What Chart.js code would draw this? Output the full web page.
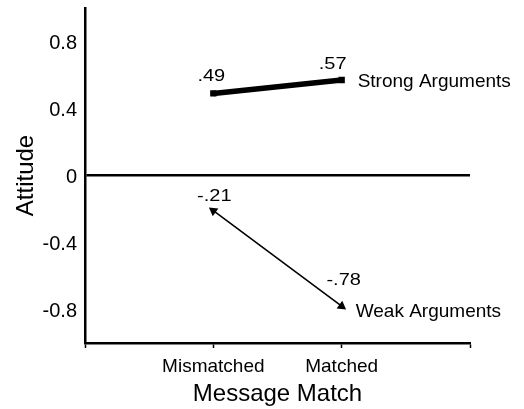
<!DOCTYPE html>
<html>
<head>
<meta charset="utf-8">
<script src="https://cdn.jsdelivr.net/npm/chart.js@4"></script>
<style>
  html, body { margin: 0; padding: 0; background: #fff; }
  #wrap { width: 524px; height: 409px; position: relative; }
</style>
</head>
<body>
<div id="wrap"><canvas id="c"></canvas></div>
<script>
// ---- data ----
const categories = ['Mismatched', 'Matched'];
const strongValues = [0.49, 0.57];
const weakValues = [-0.21, -0.78];
const seriesNames = ['Strong Arguments', 'Weak Arguments'];
const yTickValues = [0.8, 0.4, 0, -0.4, -0.8];
const yTickLabels = ['0.8', '0.4', '0', '-0.4', '-0.8'];
const xTitle = 'Message Match';
const yTitle = 'Attitude';

const FONT = '"Liberation Sans", Arial, Helvetica, sans-serif';
const xLabels = ['', ...categories, ''];
const pad = arr => [null, ...arr, null];

function fmt(v) {
  const s = v.toFixed(2);
  return s.replace('0.', '.');
}

const labelPlugin = {
  id: 'valueLabels',
  afterDatasetsDraw(chart) {
    const ctx = chart.ctx;
    chart.data.datasets.forEach((ds, di) => {
      const meta = chart.getDatasetMeta(di);
      const style = ds.labelStyle;
      let last = null;
      meta.data.forEach((pt, i) => {
        const v = ds.data[i];
        if (v === null || v === undefined) return;
        const k = i - 1;
        ctx.save();
        ctx.fillStyle = '#000';
        ctx.font = '16px ' + FONT;
        ctx.textAlign = 'center';
        ctx.textBaseline = 'alphabetic';
        ctx.translate(pt.x + style.dx[k], pt.y + style.dy[k]);
        ctx.scale(1.25, 1);
        ctx.fillText(fmt(v), 0, 0);
        ctx.restore();
        last = pt;
      });
      if (last) {
        ctx.save();
        ctx.fillStyle = '#000';
        ctx.font = '19px ' + FONT;
        ctx.textAlign = 'left';
        ctx.textBaseline = 'alphabetic';
        ctx.fillText(ds.label, last.x + style.nameDx, last.y + style.nameDy);
        ctx.restore();
      }
    });
  }
};

new Chart(document.getElementById('c'), {
  type: 'line',
  data: {
    labels: xLabels,
    datasets: [
      {
        label: seriesNames[0],
        data: pad(strongValues),
        borderColor: '#000',
        backgroundColor: '#000',
        borderWidth: 5.5,
        borderCapStyle: 'butt',
        pointStyle: 'rect',
        pointRadius: 4.5,
        pointBorderWidth: 0,
        pointBackgroundColor: '#000',
        tension: 0,
        labelStyle: { dx: [-2, -9], dy: [-12, -11], nameDx: 16, nameDy: 7 }
      },
      {
        label: seriesNames[1],
        data: pad(weakValues),
        borderColor: '#000',
        backgroundColor: '#000',
        borderWidth: 1.6,
        pointStyle: 'triangle',
        pointRadius: 5.5,
        pointBorderWidth: 0,
        pointBackgroundColor: '#000',
        pointRotation: [0, -54, 126, 0],
        tension: 0,
        labelStyle: { dx: [1, 2], dy: [-10, -21], nameDx: 14, nameDy: 11 }
      }
    ]
  },
  options: {
    responsive: true,
    maintainAspectRatio: false,
    animation: false,
    devicePixelRatio: 1,
    layout: { padding: { top: 8, right: 54, left: 0, bottom: 0 } },
    plugins: {
      legend: { display: false },
      tooltip: { enabled: false },
      title: { display: false }
    },
    scales: {
      x: {
        type: 'category',
        offset: false,
        afterFit(scale) { scale.height = 66; scale.paddingLeft = 0; scale.paddingRight = 0; },
        border: { display: true, color: '#000', width: 2.5 },
        grid: {
          display: true,
          offset: false,
          drawOnChartArea: false,
          drawTicks: true,
          tickLength: 5,
          tickColor: '#000',
          tickWidth: 1.5
        },
        ticks: {
          color: '#000',
          font: { family: FONT, size: 19 },
          padding: 7,
          maxRotation: 0,
          autoSkip: false
        },
        title: {
          display: true,
          text: xTitle,
          color: '#000',
          font: { family: FONT, size: 24 },
          padding: { top: 0, bottom: 0 }
        }
      },
      y: {
        type: 'linear',
        min: -1,
        max: 1,
        afterFit(scale) { scale.width = 85; scale.paddingTop = 0; scale.paddingBottom = 0; },
        afterBuildTicks(scale) {
          scale.ticks = yTickValues.map(v => ({ value: v }));
        },
        border: { display: true, color: '#000', width: 2.5 },
        grid: {
          display: true,
          drawTicks: false,
          color: c => (c.tick && c.tick.value === 0) ? '#000' : 'rgba(0,0,0,0)',
          lineWidth: c => (c.tick && c.tick.value === 0) ? 2.5 : 0
        },
        ticks: {
          color: '#000',
          font: { family: FONT, size: 20 },
          padding: 8,
          labelOffset: 2,
          callback: (v) => {
            const i = yTickValues.indexOf(v);
            return i >= 0 ? yTickLabels[i] : '';
          }
        },
        title: {
          display: true,
          text: yTitle,
          color: '#000',
          font: { family: FONT, size: 24 },
          padding: { top: 12, bottom: 0 }
        }
      }
    }
  },
  plugins: [labelPlugin]
});
</script>
</body>
</html>
